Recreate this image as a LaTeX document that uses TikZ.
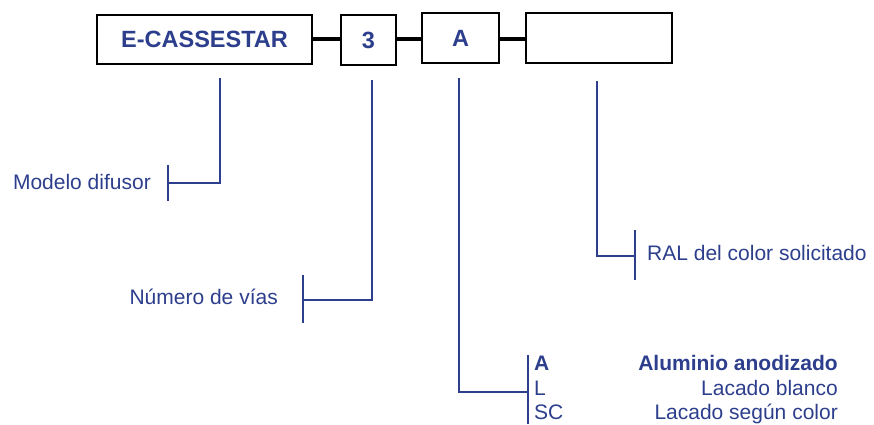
\documentclass[tikz,border=0pt]{standalone}
\usepackage{fontspec}
\setmainfont{Liberation Sans}
\definecolor{navy}{RGB}{44,62,140}
\begin{document}
\begin{tikzpicture}[x=1pt,y=-1pt,
  codebox/.style={draw=black,line width=2.5pt,inner sep=0pt,text=navy,
    font=\fontsize{23.5}{26}\selectfont\bfseries},
  joiner/.style={draw=black,line width=4pt},
  leader/.style={draw=navy,line width=2.5pt},
  lbl/.style={inner sep=0pt,text=navy,font=\fontsize{21}{24}\selectfont},
  lblb/.style={lbl,font=\fontsize{21}{24}\selectfont\bfseries}]
\useasboundingbox (0,0) rectangle (874,424);
% code boxes
\node[codebox,minimum width=215pt,minimum height=49pt] (b1) at (204.5,39.5) {E-CASSESTAR};
\node[codebox,minimum width=55pt,minimum height=50pt] (b2) at (368.5,40) {3};
\node[codebox,minimum width=77pt,minimum height=50pt] (b3) at (460.5,38) {A};
\node[codebox,minimum width=146pt,minimum height=50pt] (b4) at (599,38) {};
\draw[joiner] (b1.east |- 0,39) -- (b2.west |- 0,39);
\draw[joiner] (b2.east |- 0,39) -- (b3.west |- 0,39);
\draw[joiner] (b3.east |- 0,39) -- (b4.west |- 0,39);
% leader start points
\coordinate (s1) at (220,78);
\coordinate (s2) at (372,80);
\coordinate (s3) at (459,78);
\coordinate (s4) at (597,81);
% ticks
\coordinate (t1a) at (168,165); \coordinate (t1b) at (168,201);
\coordinate (t2a) at (303,275); \coordinate (t2b) at (303,323);
\coordinate (t3a) at (528,355); \coordinate (t3b) at (528,424);
\coordinate (t4a) at (635,230); \coordinate (t4b) at (635,280);
\draw[leader] (s1) |- (168,183);
\draw[leader] (t1a) -- (t1b);
\draw[leader] (s2) |- (303,300);
\draw[leader] (t2a) -- (t2b);
\draw[leader] (s3) |- (528,392);
\draw[leader] (t3a) -- (t3b);
\draw[leader] (s4) |- (635,256);
\draw[leader] (t4a) -- (t4b);
% labels
\node[lbl,anchor=base east] (l1) at (151,189) {Modelo difusor};
\node[lbl,anchor=base east] (l2) at (278,304) {Número de vías};
\node[lbl,anchor=base west] (l4) at (647,260) {RAL del color solicitado};
\node[lblb,anchor=base west] (c1) at (534,370) {A};
\node[lbl,anchor=base west] (c2) at (534,395) {L};
\node[lbl,anchor=base west] (c3) at (534,419) {SC};
\node[lblb,anchor=base east] (d1) at (838,370) {Aluminio anodizado};
\node[lbl,anchor=base east] (d2) at (838,395) {Lacado blanco};
\node[lbl,anchor=base east] (d3) at (838,419) {Lacado según color};
\end{tikzpicture}
\end{document}
